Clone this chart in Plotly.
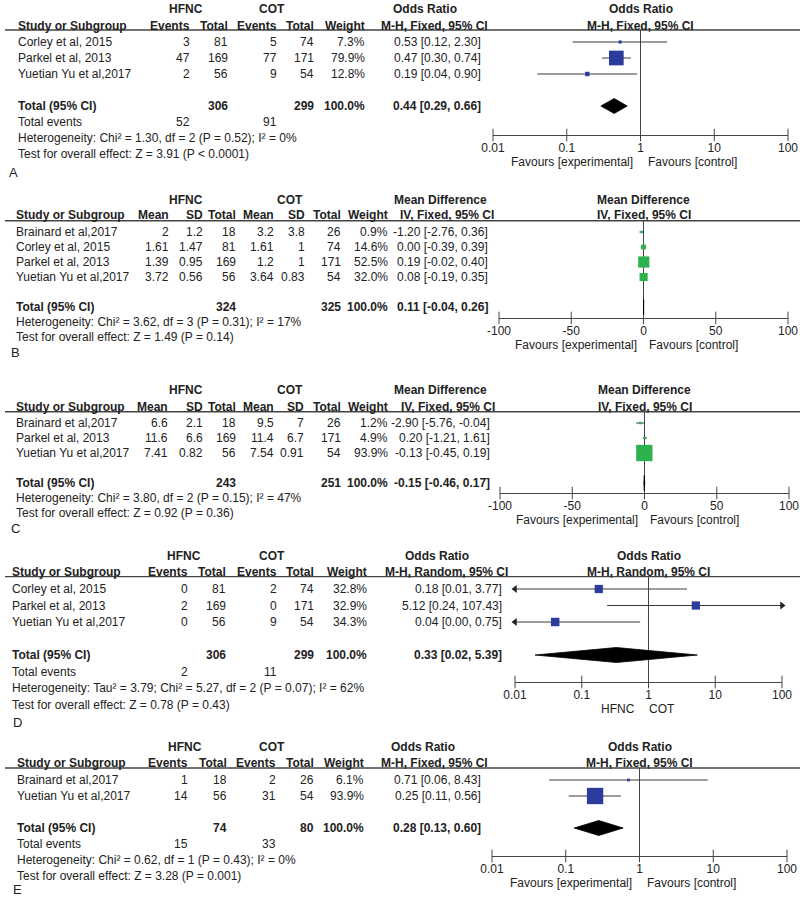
import numpy as np
import plotly.graph_objects as go

W, H = 800, 897
FONT = "Liberation Sans, Arial, Helvetica, sans-serif"
FS = 12
TXT = "#222222"
LINE = "#444444"
BLUE = "#2b3c9e"
GREEN = "#2db14d"

# ------------------------------------------------------------------ data
# Panel A
A_study = ["Corley et al, 2015", "Parkel et al, 2013", "Yuetian Yu et al,2017"]
A_hfnc_events = [3, 47, 2]
A_hfnc_total = [81, 169, 56]
A_cot_events = [5, 77, 9]
A_cot_total = [74, 171, 54]
A_weight = [7.3, 79.9, 12.8]
A_est = [0.53, 0.47, 0.19]
A_lo = [0.12, 0.30, 0.04]
A_hi = [2.30, 0.74, 0.90]
A_totals = [306, 299]
A_total_est = [0.44, 0.29, 0.66]
A_total_events = [52, 91]
A_het = "Heterogeneity: Chi² = 1.30, df = 2 (P = 0.52); I² = 0%"
A_test = "Test for overall effect: Z = 3.91 (P < 0.0001)"

# Panel B
B_study = ["Brainard et al,2017", "Corley et al, 2015", "Parkel et al, 2013", "Yuetian Yu et al,2017"]
B_hfnc_mean = [2, 1.61, 1.39, 3.72]
B_hfnc_sd = [1.2, 1.47, 0.95, 0.56]
B_hfnc_total = [18, 81, 169, 56]
B_cot_mean = [3.2, 1.61, 1.2, 3.64]
B_cot_sd = [3.8, 1, 1, 0.83]
B_cot_total = [26, 74, 171, 54]
B_weight = [0.9, 14.6, 52.5, 32.0]
B_est = [-1.20, 0.00, 0.19, 0.08]
B_lo = [-2.76, -0.39, -0.02, -0.19]
B_hi = [0.36, 0.39, 0.40, 0.35]
B_totals = [324, 325]
B_total_est = [0.11, -0.04, 0.26]
B_het = "Heterogeneity: Chi² = 3.62, df = 3 (P = 0.31); I² = 17%"
B_test = "Test for overall effect: Z = 1.49 (P = 0.14)"

# Panel C
C_study = ["Brainard et al,2017", "Parkel et al, 2013", "Yuetian Yu et al,2017"]
C_hfnc_mean = [6.6, 11.6, 7.41]
C_hfnc_sd = [2.1, 6.6, 0.82]
C_hfnc_total = [18, 169, 56]
C_cot_mean = [9.5, 11.4, 7.54]
C_cot_sd = [7, 6.7, 0.91]
C_cot_total = [26, 171, 54]
C_weight = [1.2, 4.9, 93.9]
C_est = [-2.90, 0.20, -0.13]
C_lo = [-5.76, -1.21, -0.45]
C_hi = [-0.04, 1.61, 0.19]
C_totals = [243, 251]
C_total_est = [-0.15, -0.46, 0.17]
C_het = "Heterogeneity: Chi² = 3.80, df = 2 (P = 0.15); I² = 47%"
C_test = "Test for overall effect: Z = 0.92 (P = 0.36)"

# Panel D
D_study = ["Corley et al, 2015", "Parkel et al, 2013", "Yuetian Yu et al,2017"]
D_hfnc_events = [0, 2, 0]
D_hfnc_total = [81, 169, 56]
D_cot_events = [2, 0, 9]
D_cot_total = [74, 171, 54]
D_weight = [32.8, 32.9, 34.3]
D_est = [0.18, 5.12, 0.04]
D_lo = [0.01, 0.24, 0.00]
D_hi = [3.77, 107.43, 0.75]
D_totals = [306, 299]
D_total_est = [0.33, 0.02, 5.39]
D_total_events = [2, 11]
D_het = "Heterogeneity: Tau² = 3.79; Chi² = 5.27, df = 2 (P = 0.07); I² = 62%"
D_test = "Test for overall effect: Z = 0.78 (P = 0.43)"

# Panel E
E_study = ["Brainard et al,2017", "Yuetian Yu et al,2017"]
E_hfnc_events = [1, 14]
E_hfnc_total = [18, 56]
E_cot_events = [2, 31]
E_cot_total = [26, 54]
E_weight = [6.1, 93.9]
E_est = [0.71, 0.25]
E_lo = [0.06, 0.11]
E_hi = [8.43, 0.56]
E_totals = [74, 80]
E_total_est = [0.28, 0.13, 0.60]
E_total_events = [15, 33]
E_het = "Heterogeneity: Chi² = 0.62, df = 1 (P = 0.43); I² = 0%"
E_test = "Test for overall effect: Z = 3.28 (P = 0.001)"

OR_ticks = [0.01, 0.1, 1, 10, 100]
OR_ticklabels = ["0.01", "0.1", "1", "10", "100"]
MD_ticks = [-100, -50, 0, 50, 100]
MD_ticklabels = ["-100", "-50", "0", "50", "100"]

BIN_HDR = ["Events", "Total", "Events", "Total", "Weight"]
CONT_HDR = ["Mean", "SD", "Total", "Mean", "SD", "Total", "Weight"]
FAV = ("Favours [experimental]", "Favours [control]")

panels = [
    dict(letter="A", kind="bin", study=A_study,
         cols=[A_hfnc_events, A_hfnc_total, A_cot_events, A_cot_total],
         weight=A_weight, est=A_est, lo=A_lo, hi=A_hi, totals=A_totals,
         total_est=A_total_est, total_events=A_total_events, het=A_het, test=A_test,
         eff=("Odds Ratio", "M-H, Fixed, 95% CI"), log=True,
         ticks=OR_ticks, ticklabels=OR_ticklabels, fav=FAV, color=BLUE,
         y0=42, pitch=16, axis_px=135, xdom=(493, 788), grp_px=9, hdr_px=26,
         name_x=17, col_r=[191, 229, 278, 315, 366], ci_r=482,
         eff_c=(425, 435), grp_c=(186, 272), letter_xy=(8, 172), fav_shift=(-7, 6)),
    dict(letter="B", kind="cont", study=B_study,
         cols=[B_hfnc_mean, B_hfnc_sd, B_hfnc_total, B_cot_mean, B_cot_sd, B_cot_total],
         weight=B_weight, est=B_est, lo=B_lo, hi=B_hi, totals=B_totals,
         total_est=B_total_est, total_events=None, het=B_het, test=B_test,
         eff=("Mean Difference", "IV, Fixed, 95% CI"), log=False,
         ticks=MD_ticks, ticklabels=MD_ticklabels, fav=FAV, color=GREEN,
         y0=232, pitch=15, axis_px=318, xdom=(499, 788), grp_px=200, hdr_px=215,
         name_x=15, col_r=[170, 204, 237, 275, 306, 342, 389], ci_r=489,
         eff_c=(440, 447), grp_c=(186, 290), letter_xy=(10, 352), fav_shift=(-6, 4)),
    dict(letter="C", kind="cont", study=C_study,
         cols=[C_hfnc_mean, C_hfnc_sd, C_hfnc_total, C_cot_mean, C_cot_sd, C_cot_total],
         weight=C_weight, est=C_est, lo=C_lo, hi=C_hi, totals=C_totals,
         total_est=C_total_est, total_events=None, het=C_het, test=C_test,
         eff=("Mean Difference", "IV, Fixed, 95% CI"), log=False,
         ticks=MD_ticks, ticklabels=MD_ticklabels, fav=FAV, color=GREEN,
         y0=423, pitch=15, axis_px=493, xdom=(500, 789), grp_px=390, hdr_px=407,
         name_x=15, col_r=[169, 204, 237, 275, 305, 342, 389], ci_r=491,
         eff_c=(440, 448), grp_c=(186, 290), letter_xy=(10, 528), fav_shift=(-6, 4)),
    dict(letter="D", kind="bin", study=D_study,
         cols=[D_hfnc_events, D_hfnc_total, D_cot_events, D_cot_total],
         weight=D_weight, est=D_est, lo=D_lo, hi=D_hi, totals=D_totals,
         total_est=D_total_est, total_events=D_total_events, het=D_het, test=D_test,
         eff=("Odds Ratio", "M-H, Random, 95% CI"), log=True,
         ticks=OR_ticks, ticklabels=OR_ticklabels, fav=("HFNC", "COT"), color=BLUE,
         y0=589, pitch=16.5, axis_px=682, xdom=(515, 782), grp_px=556, hdr_px=572,
         name_x=11, col_r=[189, 227, 278, 315, 368], ci_r=503,
         eff_c=(437, 446), grp_c=(184, 272), letter_xy=(12, 722), fav_shift=(-13, -1)),
    dict(letter="E", kind="bin", study=E_study,
         cols=[E_hfnc_events, E_hfnc_total, E_cot_events, E_cot_total],
         weight=E_weight, est=E_est, lo=E_lo, hi=E_hi, totals=E_totals,
         total_est=E_total_est, total_events=E_total_events, het=E_het, test=E_test,
         eff=("Odds Ratio", "M-H, Fixed, 95% CI"), log=True,
         ticks=OR_ticks, ticklabels=OR_ticklabels, fav=FAV, color=BLUE,
         y0=780, pitch=16, axis_px=856, xdom=(492, 787), grp_px=747, hdr_px=763,
         name_x=16, col_r=[189, 228, 277, 315, 365], ci_r=482,
         eff_c=(423, 434), grp_c=(185, 272), letter_xy=(12, 889), fav_shift=(-7, 6)),
]

fig = go.Figure()
annotations = []
shapes = []
layout_axes = {}


def fmt_num(v):
    return f"{v:g}"


def ci_text(e, l, h):
    return f"{e:.2f} [{l:.2f}, {h:.2f}]"


def add_txt(s, xpx, yrow, yref, anchor="left", bold=False, size=FS):
    annotations.append(dict(
        text=s, x=xpx / W, xref="paper", y=yrow, yref=yref,
        xanchor=anchor, yanchor="middle", showarrow=False, borderpad=0,
        font=dict(family=FONT, size=size, color=TXT, weight="bold" if bold else "normal")))


for k, p in enumerate(panels, start=1):
    xa = "x" if k == 1 else f"x{k}"
    ya = "y" if k == 1 else f"y{k}"
    y0, pitch = p["y0"], p["pitch"]

    def row(px):
        return (px - y0) / pitch

    n = len(p["study"])
    axis_row = row(p["axis_px"])
    line_row = -0.75
    xmin, xmax = p["ticks"][0], p["ticks"][-1]
    log = p["log"]
    ref = 1 if log else 0

    layout_axes["xaxis" if k == 1 else f"xaxis{k}"] = dict(
        domain=[p["xdom"][0] / W, p["xdom"][1] / W],
        type="log" if log else "linear",
        range=[np.log10(xmin), np.log10(xmax)] if log else [xmin, xmax],
        anchor="free", position=1 - p["axis_px"] / H, automargin=False,
        showline=True, linecolor=LINE, linewidth=1, ticks="",
        tickmode="array", tickvals=p["ticks"], ticktext=p["ticklabels"],
        tickfont=dict(family=FONT, size=FS, color=TXT), ticklabelstandoff=2,
        showgrid=False, zeroline=False, fixedrange=True, layer="above traces")
    layout_axes["yaxis" if k == 1 else f"yaxis{k}"] = dict(
        domain=[0, 1], range=[(H - y0) / pitch, -y0 / pitch], anchor=xa,
        visible=False, automargin=False, showgrid=False, zeroline=False, fixedrange=True)

    # tick marks crossing the axis line
    fig.add_trace(go.Scatter(
        x=p["ticks"], y=[axis_row] * len(p["ticks"]), xaxis=xa, yaxis=ya,
        mode="markers", cliponaxis=False, hoverinfo="skip",
        marker=dict(symbol="line-ns", size=9, line=dict(width=1, color=LINE))))

    # reference (no effect) line
    fig.add_trace(go.Scatter(
        x=[ref, ref], y=[line_row, axis_row], xaxis=xa, yaxis=ya, mode="lines",
        line=dict(color=LINE, width=1), hoverinfo="skip"))

    # confidence intervals
    cx, cy = [], []
    arrows_l, arrows_r = [], []
    for i in range(n):
        lo = max(p["lo"][i], xmin)
        hi = min(p["hi"][i], xmax)
        cx += [lo, hi, None]
        cy += [i, i, None]
        if p["lo"][i] <= xmin:
            arrows_l.append(i)
        if p["hi"][i] >= xmax:
            arrows_r.append(i)
    fig.add_trace(go.Scatter(x=cx, y=cy, xaxis=xa, yaxis=ya, mode="lines",
                             line=dict(color="#3a3a3a", width=1), hoverinfo="skip"))
    if arrows_l:
        fig.add_trace(go.Scatter(
            x=[xmin] * len(arrows_l), y=arrows_l, xaxis=xa, yaxis=ya, mode="markers",
            cliponaxis=False, hoverinfo="skip",
            marker=dict(symbol="triangle-left", size=7, color="#222222")))
    if arrows_r:
        fig.add_trace(go.Scatter(
            x=[xmax] * len(arrows_r), y=arrows_r, xaxis=xa, yaxis=ya, mode="markers",
            cliponaxis=False, hoverinfo="skip",
            marker=dict(symbol="triangle-right", size=7, color="#222222")))

    # study squares, sized by weight
    sizes = [max(2.5, 17 * (w / 100) ** 0.65) for w in p["weight"]]
    fig.add_trace(go.Scatter(
        x=p["est"], y=list(range(n)), xaxis=xa, yaxis=ya, mode="markers",
        cliponaxis=False, hoverinfo="skip",
        marker=dict(symbol="square", size=sizes, color=p["color"], opacity=1,
                    line=dict(width=0))))

    # pooled diamond
    te, tl, th = p["total_est"]
    trow = n + 1
    hh = 7.5 / pitch
    fig.add_trace(go.Scatter(
        x=[tl, te, th, te, tl], y=[trow, trow - hh, trow, trow + hh, trow],
        xaxis=xa, yaxis=ya, mode="lines", fill="toself", fillcolor="black",
        line=dict(color="black", width=0.8), hoverinfo="skip"))

    # header rule
    shapes.append(dict(type="line", xref="paper", yref=ya, x0=5 / W, x1=1,
                       y0=line_row, y1=line_row, line=dict(color=LINE, width=1.3)))

    # ---- texts
    grp_row, hdr_row = row(p["grp_px"]), row(p["hdr_px"])
    add_txt("HFNC", p["grp_c"][0], grp_row, ya, "center", True)
    add_txt("COT", p["grp_c"][1], grp_row, ya, "center", True)
    add_txt("Study or Subgroup", p["name_x"], hdr_row, ya, "left", True)
    hdrs = BIN_HDR if p["kind"] == "bin" else CONT_HDR
    for h, xr in zip(hdrs, p["col_r"]):
        add_txt(h, xr, hdr_row, ya, "right", True)
    add_txt(p["eff"][0], p["eff_c"][0], grp_row, ya, "center", True)
    add_txt(p["eff"][1], p["eff_c"][1], hdr_row, ya, "center", True)
    for j, s in enumerate(p["eff"]):
        annotations.append(dict(
            text=s, x=0.5, xref=f"{xa} domain", y=[grp_row, hdr_row][j], yref=ya,
            xanchor="center", yanchor="middle", showarrow=False, borderpad=0,
            font=dict(family=FONT, size=FS, color=TXT, weight="bold")))

    for i in range(n):
        add_txt(p["study"][i], p["name_x"], i, ya, "left")
        for c, xr in zip(p["cols"], p["col_r"][:-1]):
            add_txt(fmt_num(c[i]), xr, i, ya, "right")
        add_txt(f"{p['weight'][i]:.1f}%", p["col_r"][-1], i, ya, "right")
        add_txt(ci_text(p["est"][i], p["lo"][i], p["hi"][i]), p["ci_r"], i, ya, "right")

    # total row
    add_txt("Total (95% CI)", p["name_x"], trow, ya, "left", True)
    tot_idx = [1, 3] if p["kind"] == "bin" else [2, 5]
    for v, ci in zip(p["totals"], tot_idx):
        add_txt(str(v), p["col_r"][ci], trow, ya, "right", True)
    add_txt("100.0%", p["col_r"][-1], trow, ya, "right", True)
    add_txt(ci_text(te, tl, th), p["ci_r"], trow, ya, "right", True)

    r = trow + 1
    if p["total_events"] is not None:
        add_txt("Total events", p["name_x"], r, ya, "left")
        for v, ci in zip(p["total_events"], [0, 2]):
            add_txt(str(v), p["col_r"][ci], r, ya, "right")
        r += 1
    add_txt(p["het"], p["name_x"], r, ya, "left")
    add_txt(p["test"], p["name_x"], r + 1, ya, "left")

    # letter
    lx, lpy = p["letter_xy"]
    add_txt(p["letter"], lx, row(lpy), ya, "left", size=13)

    # favours labels under axis
    fav_row = row(p["axis_px"] + 27)
    ref_ann = np.log10(ref) if log else ref
    annotations.append(dict(
        text=p["fav"][0], x=ref_ann, xref=xa, y=fav_row, yref=ya, xanchor="right",
        yanchor="middle", xshift=p["fav_shift"][0], showarrow=False, borderpad=0,
        font=dict(family=FONT, size=FS, color=TXT)))
    annotations.append(dict(
        text=p["fav"][1], x=ref_ann, xref=xa, y=fav_row, yref=ya, xanchor="left",
        yanchor="middle", xshift=p["fav_shift"][1], showarrow=False, borderpad=0,
        font=dict(family=FONT, size=FS, color=TXT)))

fig.update_layout(
    width=W, height=H, autosize=False,
    margin=dict(l=0, r=0, t=0, b=0, pad=0, autoexpand=False),
    paper_bgcolor="white", plot_bgcolor="rgba(0,0,0,0)", showlegend=False,
    annotations=annotations, shapes=shapes, **layout_axes)

fig.write_html(
    "out.html",
    config=dict(displayModeBar=False, responsive=False),
    post_script="document.body.style.margin='0';document.body.style.overflow='hidden';")
